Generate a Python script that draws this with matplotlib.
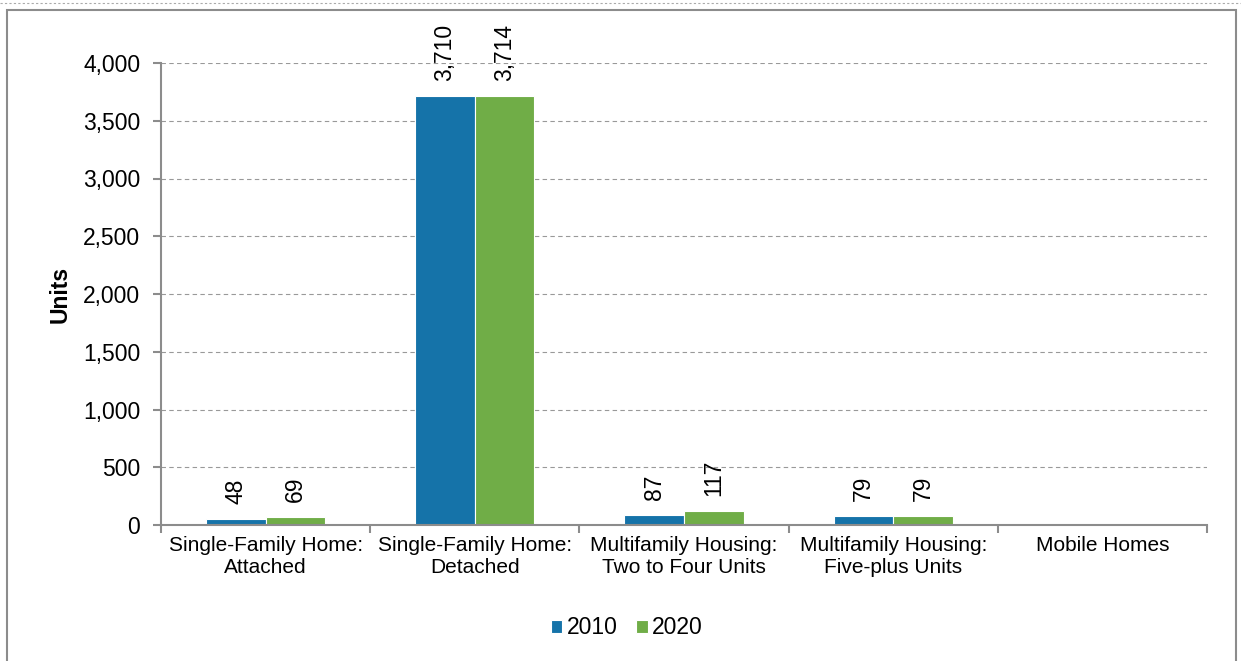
import numpy as np
import matplotlib.pyplot as plt
from matplotlib.patches import Rectangle
from matplotlib.lines import Line2D

categories = ["Single-Family Home:\nAttached", "Single-Family Home:\nDetached",
              "Multifamily Housing:\nTwo to Four Units", "Multifamily Housing:\nFive-plus Units",
              "Mobile Homes"]
years = ["2010", "2020"]
values_2010 = [48, 3710, 87, 79, 0]
values_2020 = [69, 3714, 117, 79, 0]
labels_2010 = ["48", "3,710", "87", "79", None]
labels_2020 = ["69", "3,714", "117", "79", None]
yticks = [0, 500, 1000, 1500, 2000, 2500, 3000, 3500, 4000]

blue = "#1573A9"
green = "#70AD47"
grey = "#8C8C8C"

plt.rcParams['font.family'] = ['Liberation Sans', 'DejaVu Sans']

fig = plt.figure(figsize=(12.41, 6.61), dpi=100)
W, H = 1241, 661
ax = fig.add_axes([161 / W, 1 - 525 / H, (1207 - 161) / W, (525 - 63) / H])

# outer frame and dashed top line
fig.add_artist(Rectangle((7 / W, -0.05), (1236 - 7) / W, 1.05 - 10 / H,
                         transform=fig.transFigure, fill=False, edgecolor=grey, lw=1.5))
fig.add_artist(Line2D([0, 1], [1 - 3 / H, 1 - 3 / H], transform=fig.transFigure,
                      color="#AAAAAA", lw=0.8, ls=(0, (2, 2))))

x = np.arange(len(categories))
bw = 0.285
b1 = ax.bar(x - bw / 2, values_2010, bw, color=blue, edgecolor="white", lw=0.8, label=years[0])
b2 = ax.bar(x + bw / 2, values_2020, bw, color=green, edgecolor="white", lw=0.8, label=years[1])

for bars, labs in ((b1, labels_2010), (b2, labels_2020)):
    for rect, lab in zip(bars, labs):
        if lab is None:
            continue
        ax.annotate(lab, (rect.get_x() + rect.get_width() / 2, rect.get_height()),
                    xytext=(0, 11), textcoords="offset points", rotation=90,
                    ha="center", va="bottom", fontsize=16.5)

ax.set_xlim(-0.5, len(categories) - 0.5)
ax.set_ylim(0, 4000)
ax.set_yticks(yticks)
ax.set_yticklabels([f"{v:,}" for v in yticks], fontsize=16.5)
ax.set_xticks(x)
ax.set_xticklabels(categories, fontsize=15)
ax.tick_params(axis="x", length=0, pad=8)
ax.set_xticks(np.arange(len(categories) + 1) - 0.5, minor=True)
ax.tick_params(axis="x", which="minor", length=6, color=grey, width=1.5)
ax.tick_params(axis="y", length=6, color=grey, width=1.5, pad=9)
ax.grid(axis="y", color="#999999", ls=(0, (4, 3)), lw=0.8)
ax.set_axisbelow(True)
for s in ("top", "right"):
    ax.spines[s].set_visible(False)
for s in ("left", "bottom"):
    ax.spines[s].set_color(grey)
    ax.spines[s].set_linewidth(1.5)
ax.set_ylabel("Units", fontsize=16.5, fontweight="bold", labelpad=8)

fig.legend(loc="center", bbox_to_anchor=(627 / W, 1 - 628 / H), ncol=2, frameon=False,
           fontsize=16.5, handlelength=0.5, handleheight=0.5, handletextpad=0.2, columnspacing=0.8)

fig.savefig("out.png", dpi=100)
